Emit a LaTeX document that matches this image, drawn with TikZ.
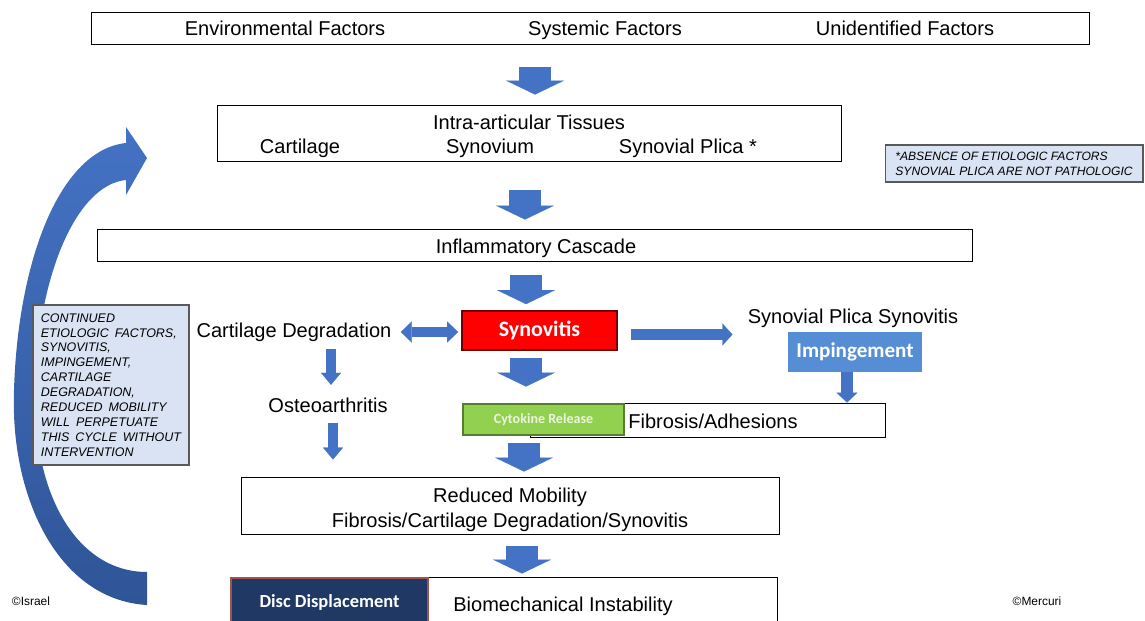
\documentclass[tikz,border=0pt]{standalone}
\usepackage{fontspec}
\setmainfont{Liberation Sans}
\newfontfamily\calib{Carlito}
\usepackage{tikz}
\usetikzlibrary{positioning,arrows.meta}
\usepackage{xcolor}
\definecolor{arrowblue}{HTML}{4472C4}
\definecolor{arrowdark}{HTML}{2F5597}
\definecolor{notefill}{HTML}{DAE3F3}
\definecolor{impblue}{HTML}{558ED5}
\definecolor{cytogreen}{HTML}{92D050}
\definecolor{cytotext}{HTML}{EEF3E0}
\definecolor{discnavy}{HTML}{1F3864}
\definecolor{discedge}{HTML}{A0524D}

\tikzset{
  box/.style={draw, line width=0.5pt, fill=white, inner sep=0pt},
  txt/.style={inner sep=0pt, text height=9pt, text depth=1pt, font=\fontsize{11.4}{14.2}\selectfont},
  note/.style={draw=black!65, fill=notefill, line width=0.6pt, align=left, inner sep=0pt,
    font=\fontsize{7.1}{8.5}\selectfont\itshape},
  widespace/.style={execute at begin node={\spaceskip=3.4pt plus 1pt\relax}},
  badge/.style={inner sep=0pt, font=\calib\bfseries},
  bigdown/.style={draw=arrowblue, line width=0.64cm,
    -{Triangle[width=1.16cm,length=0.28cm,line width=0.1pt]}},
  smalldown/.style={draw=arrowblue, line width=0.2cm,
    -{Triangle[width=0.4cm,length=0.24cm,line width=0.1pt]}},
  impdown/.style={draw=arrowblue, line width=0.24cm,
    -{Triangle[width=0.42cm,length=0.2cm,line width=0.1pt]}},
  twoway/.style={draw=arrowblue, line width=0.2cm,
    {Triangle[width=0.42cm,length=0.22cm,line width=0.1pt]}-{Triangle[width=0.42cm,length=0.22cm,line width=0.1pt]}},
  oneway/.style={draw=arrowblue, line width=0.24cm,
    -{Triangle[width=0.44cm,length=0.2cm,line width=0.1pt]}},
  copy/.style={inner sep=0pt, font=\fontsize{6.8}{8}\selectfont}
}

\begin{document}
\begin{tikzpicture}[x=0.02cm, y=-0.02cm]
    \useasboundingbox (0,0) rectangle (1145,621);
    \clip (0,0) rectangle (1145,621);

    % Cycle arrow
    \shade[top color=arrowblue, bottom color=arrowdark]
      (147,605) .. controls (60,600) and (10,500) .. (14,390)
      .. controls (18,260) and (60,150) .. (126,143)
      -- (126,127) -- (147,158) -- (126,195) -- (126,180)
      .. controls (75,185) and (37,280) .. (35,390)
      .. controls (33,500) and (80,572) .. (147,572) -- cycle;

    % Etiologic factors
    \node[box, minimum width=19.98cm, minimum height=0.64cm] (top) at (590.5,28) {};
    \node[txt] (env) at (285,28) {Environmental Factors};
    \node[txt] (sys) at (605,28) {Systemic Factors};
    \node[txt] (unid) at (905,28) {Unidentified Factors};

    % Intra-articular tissues
    \node[box, minimum width=12.48cm, minimum height=1.12cm] (tissues) at (529,133) {};
    \node[txt] (tistitle) at (529,122) {Intra-articular Tissues};
    \node[txt] (cart) at (300,146) {Cartilage};
    \node[txt] (synov) at (490,146) {Synovium};
    \node[txt] (plica) at (688,146) {Synovial Plica *};
    \node[note, font=\fontsize{6.9}{8.5}\selectfont\itshape, minimum width=5.16cm, minimum height=0.74cm] (note1) at (1014,163.5)
      {*ABSENCE OF ETIOLOGIC FACTORS\\SYNOVIAL PLICA ARE NOT PATHOLOGIC};

    % Inflammatory cascade
    \node[box, minimum width=17.52cm, minimum height=0.64cm] (cascade) at (535,245) {};
    \node[txt] (castext) at (536,246) {Inflammatory Cascade};

    % Cycle note
    \node[note, widespace, minimum width=3.12cm, minimum height=3.2cm] (note2) at (111,385)
      {CONTINUED\\ETIOLOGIC FACTORS,\\SYNOVITIS,\\IMPINGEMENT,\\CARTILAGE\\DEGRADATION,\\REDUCED MOBILITY\\WILL PERPETUATE\\THIS CYCLE WITHOUT\\INTERVENTION};

    % Synovitis row
    \node[txt] (cartdeg) at (294,330) {Cartilage Degradation};
    \node[badge, draw=red!45!black, line width=1pt, fill=red, text=white, font=\calib\bfseries\fontsize{12.5}{14}\selectfont,
      minimum width=3.1cm, minimum height=0.78cm] (synovitis) at (539.5,330.5) {Synovitis};
    \node[txt] (plicasyn) at (853,316) {Synovial Plica Synovitis};
    \node[badge, fill=impblue, text=white, font=\calib\bfseries\fontsize{12}{14}\selectfont,
      minimum width=2.68cm, minimum height=0.8cm] (imp) at (855,352) {Impingement};
    \node[txt] (osteo) at (328,405) {Osteoarthritis};

    % Fibrosis
    \node[box, minimum width=7.1cm, minimum height=0.68cm] (fibrosis) at (707.5,420) {};
    \node[txt] (fibtext) at (713,421) {Fibrosis/Adhesions};
    \node[badge, draw=cytogreen!60!black, line width=0.6pt, fill=cytogreen, text=cytotext,
      font=\calib\bfseries\fontsize{8}{10}\selectfont,
      minimum width=3.22cm, minimum height=0.62cm] (cyto) at (543.5,419.5) {Cytokine Release};

    % Reduced mobility
    \node[box, minimum width=10.76cm, minimum height=1.14cm] (reduced) at (510,505.5) {};
    \node[inner sep=0pt, align=center, font=\fontsize{11.4}{14.2}\selectfont] (redtext) at (510,509.5)
      {Reduced Mobility\\Fibrosis/Cartilage Degradation/Synovitis};

    % Instability
    \node[box, minimum width=10.94cm, minimum height=1.0cm] (bottom) at (503.5,602) {};
    \node[txt] (biotext) at (563,604) {Biomechanical Instability};
    \node[badge, draw=discedge, line width=0.8pt, fill=discnavy, text=white,
      font=\calib\bfseries\fontsize{10.5}{12}\selectfont,
      minimum width=3.94cm, minimum height=0.96cm] (disc) at (329.5,602) {Disc Displacement};

    \node[copy] (israel) at (31,601) {©Israel};
    \node[copy] (mercuri) at (1037,601) {©Mercuri};

    % Flow arrows
    \draw[bigdown, shorten <=0.46cm, shorten >=0.2cm] ([xshift=-1.11cm]top.south) -- ([xshift=-1.11cm]top.south |- tissues.north);
    \draw[bigdown, shorten <=0.58cm, shorten >=0.18cm] ([xshift=-0.08cm]tissues.south) -- ([xshift=-0.08cm]tissues.south |- cascade.north);
    \draw[bigdown, shorten <=0.28cm, shorten >=0.12cm] ([xshift=-0.18cm]cascade.south) -- ([xshift=-0.18cm]cascade.south |- synovitis.north);
    \draw[bigdown, shorten <=0.14cm, shorten >=0.32cm] ([xshift=-0.27cm]synovitis.south) -- ([xshift=-0.27cm]synovitis.south |- fibrosis.north);
    \draw[bigdown, shorten <=0.12cm, shorten >=0.1cm] ([xshift=0.28cm]reduced.north |- fibrosis.south) -- ([xshift=0.28cm]reduced.north);
    \draw[bigdown, shorten <=0.24cm, shorten >=0.06cm] ([xshift=0.24cm]reduced.south) -- ([xshift=0.24cm]reduced.south |- bottom.north);

    \draw[smalldown, shorten <=0.2cm, shorten >=0.22cm] ([xshift=0.06cm]osteo.north |- cartdeg.south) -- ([xshift=0.06cm]osteo.north);
    \draw[smalldown, shorten <=0.18cm, shorten >=0.34cm] ([xshift=0.1cm]osteo.south) -- ([xshift=0.1cm]osteo.south |- reduced.north);
    \draw[impdown] ([xshift=-0.16cm]imp.south) -- ([xshift=-0.16cm]imp.south |- fibrosis.north);

    \draw[twoway, shorten <=0.18cm, shorten >=0.06cm] ([yshift=-0.04cm]cartdeg.east) -- ([yshift=-0.04cm]cartdeg.east -| synovitis.west);
    \draw[oneway, shorten <=0.26cm, shorten >=0.3cm] ([yshift=-0.08cm]synovitis.east) -- ([yshift=-0.08cm]synovitis.east -| plicasyn.west);
\end{tikzpicture}
\end{document}
